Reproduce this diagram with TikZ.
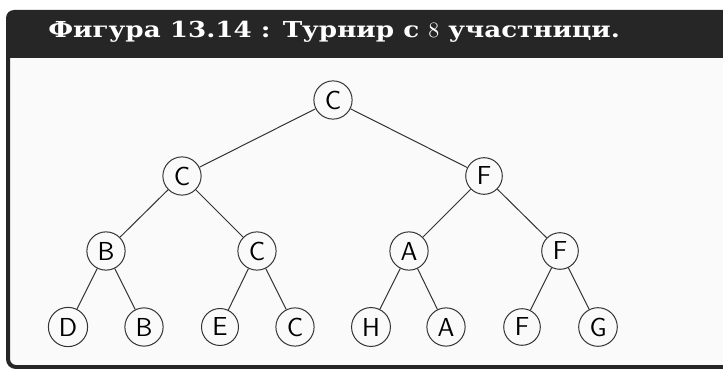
\documentclass[tikz,border=0pt]{standalone}
\usepackage{fontspec}
\newfontfamily\headfont[FakeStretch=1.19]{DejaVu Serif}
\definecolor{headcol}{HTML}{262626}
\definecolor{bodycol}{HTML}{FAFAFA}
\begin{document}
\begin{tikzpicture}[x=0.5pt,y=-0.5pt,
    player/.style={circle,draw=black!80,line width=0.5pt,inner sep=2.4pt,font=\sffamily\fontsize{13}{15}\selectfont},
    match/.style={draw=black!80,line width=0.5pt}]
        \useasboundingbox (0,0) rectangle (723,369);
        % frame
        \fill[bodycol] (8,58) rectangle (740,367);
        \fill[headcol] (6,58) [rounded corners=4pt] -- (6,10) -- (760,10) [sharp corners] -- (760,58) -- cycle;
        \draw[headcol,line width=2pt] (8,58) [rounded corners=4pt] -- (8,367) -- (740,367);
        \node[anchor=base west,inner sep=0pt,text=white,font=\headfont\bfseries\fontsize{11}{13}\selectfont] (title) at (48,38) {Фигура 13.14 : Турнир с $8$ участници.};
        % tree
        \node[player] (root) at (333,100) {C};
        \node[player] (l) at (182,176) {C};
        \node[player] (r) at (484,176) {F};
        \node[player] (ll) at (106,251) {B};
        \node[player] (lr) at (257,251) {C};
        \node[player] (rl) at (409,251) {A};
        \node[player] (rr) at (560,251) {F};
        \node[player] (lll) at (68,327) {D};
        \node[player] (llr) at (144,327) {B};
        \node[player] (lrl) at (220,327) {E};
        \node[player] (lrr) at (295,327) {C};
        \node[player] (rll) at (371,327) {H};
        \node[player] (rlr) at (446,327) {A};
        \node[player] (rrl) at (522,327) {F};
        \node[player] (rrr) at (598,327) {G};
        \draw[match] (root) -- (l);
        \draw[match] (root) -- (r);
        \draw[match] (l) -- (ll);
        \draw[match] (l) -- (lr);
        \draw[match] (r) -- (rl);
        \draw[match] (r) -- (rr);
        \draw[match] (ll) -- (lll);
        \draw[match] (ll) -- (llr);
        \draw[match] (lr) -- (lrl);
        \draw[match] (lr) -- (lrr);
        \draw[match] (rl) -- (rll);
        \draw[match] (rl) -- (rlr);
        \draw[match] (rr) -- (rrl);
        \draw[match] (rr) -- (rrr);
\end{tikzpicture}
\end{document}
